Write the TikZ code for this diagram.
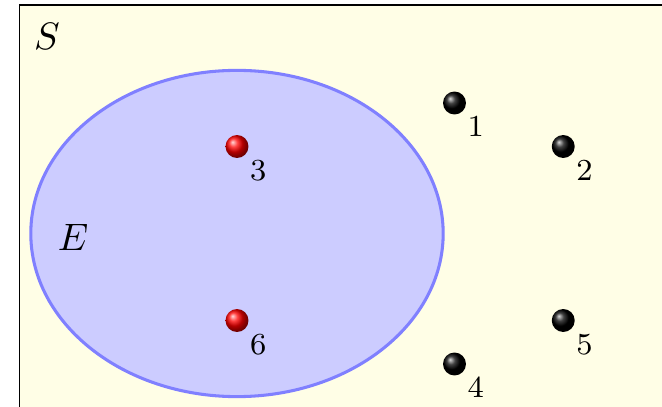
\documentclass[tikz,border=0pt]{standalone}
\usepackage{amssymb}
\usepackage{pgf, tikz}
\pgfdeclarelayer{edgelayer}
\pgfdeclarelayer{nodelayer}
\pgfsetlayers{edgelayer,nodelayer,main}
\tikzstyle{none}=[inner sep=0pt]
\tikzstyle{space}=[draw=black, fill=yellow!10]
\tikzstyle{event}=[draw=blue!50, fill=blue!20, thick]
\tikzstyle{outcome}=[circle, inner sep=0pt, minimum size=6pt, ball color=black]
\tikzstyle{inevent}=[circle, inner sep=0pt, minimum size=6pt, ball color=red]
\tikzstyle{num}=[anchor=north west, inner sep=1pt, font=\footnotesize]

\begin{document}
\begin{tikzpicture}[x=0.4cm, y=0.4cm]
	\useasboundingbox (-5.448, -3.966) rectangle (9.770, 5.368);
	\clip (-5.448, -3.966) rectangle (9.770, 5.368);
	\begin{pgfonlayer}{edgelayer}
		\draw [style=space] (-5, -6) rectangle (11, 5.25);
		\draw [style=event] (0, 0) ellipse (4.74 and 3.75);
	\end{pgfonlayer}
	\begin{pgfonlayer}{nodelayer}
		\node [style=none] (S) at (-4.37, 4.52) {$S$};
		\node [style=none] (E) at (-3.77, -0.08) {$E$};
		\node [style=outcome] (1) at (5, 3) {};
		\node [style=outcome] (2) at (7.5, 2) {};
		\node [style=inevent] (3) at (0, 2) {};
		\node [style=outcome] (4) at (5, -3) {};
		\node [style=outcome] (5) at (7.5, -2) {};
		\node [style=inevent] (6) at (0, -2) {};
		\node [style=num] (l1) at (1.south east) {1};
		\node [style=num] (l2) at (2.south east) {2};
		\node [style=num] (l3) at (3.south east) {3};
		\node [style=num] (l4) at (4.south east) {4};
		\node [style=num] (l5) at (5.south east) {5};
		\node [style=num] (l6) at (6.south east) {6};
	\end{pgfonlayer}
\end{tikzpicture}
\end{document}
